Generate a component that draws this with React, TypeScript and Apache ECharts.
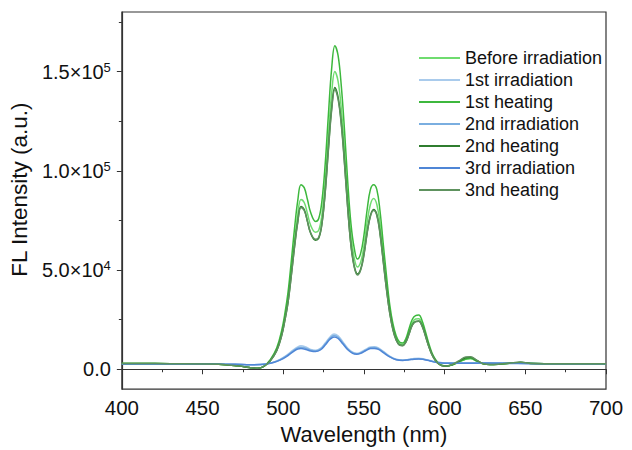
import React, { useEffect, useRef } from "react";
import * as echarts from "echarts";

// Wavelength grids (nm)
const wlGreen = [
  400, 430, 460, 472, 479, 484, 488, 492, 496, 499,
  501, 503, 505, 507, 509, 511, 513, 515, 517, 520,
  522, 524, 526, 528, 530, 532, 534, 536, 538, 540,
  542, 544, 546, 548, 550, 552, 554, 556, 558, 560,
  562, 564, 566, 568, 570, 572, 574, 576, 578, 580,
  582, 584, 586, 588, 590, 592, 594, 596, 598, 601,
  605, 609, 613, 616, 620, 624, 628, 634, 640, 647,
  655, 670, 700,
];
const wlBlue = [
  400, 440, 470, 480, 486, 490, 494, 498, 502, 506,
  509, 511, 514, 517, 520, 523, 526, 529, 531.5, 534,
  537, 540, 543, 545.5, 548, 551, 554, 556.5, 559, 562,
  566, 570, 574, 578, 581, 584, 587, 591, 595, 600,
  610, 625, 645, 670, 700,
];

// FL intensity (a.u.)
const beforeIrradiation = [
  2900, 2800, 2500, 1700, 900, 500, 1500, 4500, 10000, 18000,
  26000, 36000, 50000, 65000, 78000, 85500, 84000, 78500, 72500, 69000,
  70000, 78000, 95000, 118000, 139000, 150000, 145000, 131000, 110000, 86000,
  67000, 56000, 51500, 54000, 62000, 74000, 83000, 86000, 83000, 73000,
  58000, 43000, 30000, 21000, 15500, 12800, 12500, 14500, 19000, 23500,
  25300, 25500, 23000, 18000, 12500, 8000, 5000, 3000, 2000, 1600,
  2300, 3600, 5000, 5300, 4000, 2700, 2400, 2600, 3000, 3400,
  2900, 2800, 2800,
];
const heating1 = [
  2900, 2800, 2500, 1700, 900, 500, 1500, 4800, 10800, 19500,
  28000, 39000, 54500, 71000, 85000, 93000, 91500, 85500, 79000, 74500,
  76000, 85000, 103500, 128500, 151500, 163000, 158000, 142500, 120000, 94000,
  73000, 61000, 55500, 58500, 67500, 80500, 90500, 93000, 90500, 79500,
  63000, 47000, 32500, 22800, 16800, 13700, 13200, 15500, 20500, 25200,
  27000, 27300, 24600, 19300, 13500, 8600, 5300, 3200, 2100, 1700,
  2300, 3700, 5200, 5500, 4100, 2700, 2400, 2600, 3000, 3400,
  2900, 2800, 2800,
];
const heating2 = [
  2900, 2800, 2500, 1700, 900, 500, 1500, 4300, 9500, 17000,
  24700, 34000, 47500, 62000, 74500, 82000, 80500, 74500, 68500, 65000,
  66000, 73500, 89500, 111500, 131500, 142000, 137000, 124000, 104000, 81000,
  62500, 52000, 48000, 50500, 58000, 69000, 77500, 80500, 78000, 68500,
  54500, 40500, 28500, 20000, 14800, 12300, 12000, 13800, 18000, 22400,
  24100, 24300, 22000, 17200, 12000, 7700, 4800, 2900, 1900, 1600,
  2400, 4000, 5800, 6000, 4400, 2800, 2400, 2600, 3000, 3500,
  2900, 2800, 2800,
];
const heating3 = [
  2900, 2800, 2500, 1700, 900, 500, 1500, 4300, 9400, 16800,
  24500, 33800, 47000, 61500, 74000, 81500, 80000, 74500, 68800, 65500,
  66500, 73500, 89000, 110500, 130500, 141000, 136000, 123000, 103000, 80500,
  62000, 51500, 47500, 50000, 57500, 68500, 77000, 80000, 77500, 68000,
  54000, 40000, 28200, 19800, 14600, 12200, 11900, 13600, 17800, 22200,
  23900, 24200, 21800, 17000, 11800, 7600, 4700, 2900, 1900, 1600,
  2500, 4300, 6200, 6300, 4500, 2800, 2400, 2600, 3000, 3500,
  2900, 2800, 2800,
];
const irradiation1 = [
  2600, 2700, 2500, 2300, 2400, 2800, 3600, 5000, 7000, 9600,
  11300, 11800, 11200, 10000, 9600, 10500, 13200, 16300, 17800, 16800,
  13800, 10600, 8600, 8000, 8600, 10000, 11200, 11400, 10800, 9000,
  6600, 5000, 4600, 5000, 5400, 5500, 5200, 4400, 3600, 3200,
  3100, 3200, 3000, 2800, 2800,
];
const irradiation2 = [
  2600, 2700, 2500, 2300, 2400, 2800, 3500, 4800, 6700, 9200,
  10800, 11100, 10600, 9600, 9200, 10100, 12700, 15700, 17000, 16100,
  13200, 10200, 8300, 7800, 8300, 9600, 10800, 11000, 10400, 8700,
  6400, 4900, 4500, 4900, 5200, 5300, 5000, 4300, 3500, 3100,
  3100, 3200, 3000, 2800, 2800,
];
const irradiation3 = [
  2600, 2700, 2500, 2300, 2400, 2700, 3400, 4600, 6400, 8800,
  10200, 10400, 10000, 9200, 8900, 9700, 12200, 15100, 16300, 15500,
  12700, 9800, 8000, 7600, 8000, 9300, 10400, 10500, 10000, 8400,
  6200, 4800, 4400, 4800, 5100, 5200, 4900, 4200, 3400, 3000,
  3000, 3100, 2900, 2800, 2800,
];

const seriesNames = [
  "Before irradiation",
  "1st irradiation",
  "1st heating",
  "2nd irradiation",
  "2nd heating",
  "3rd irradiation",
  "3nd heating",
];
const seriesColors = [
  "#6fdc6f",
  "#a9cbec",
  "#3db83d",
  "#7aaee0",
  "#2f7d2f",
  "#4f86d6",
  "#5e925e",
];
const seriesValues = [
  beforeIrradiation,
  irradiation1,
  heating1,
  irradiation2,
  heating2,
  irradiation3,
  heating3,
];
const seriesGrids = [wlGreen, wlBlue, wlGreen, wlBlue, wlGreen, wlBlue, wlGreen];

const yMajorTicks = [0, 50000, 100000, 150000];
const yMinorTicks = [25000, 75000, 125000, 175000];

const FONT = "'Liberation Sans', Arial, sans-serif";

function sciLabel(v: number): string {
  if (v === 0) return "0.0";
  const e = Math.floor(Math.log10(v));
  const m = (v / Math.pow(10, e)).toFixed(1);
  return `{b|${m}×10}{s|${e}}`;
}

export default function App() {
  const ref = useRef<HTMLDivElement>(null);
  useEffect(() => {
    if (!ref.current) return;
    const chart = echarts.init(ref.current, null, { renderer: "svg" });
    const axisColor = "#333";
    chart.setOption({
      animation: false,
      backgroundColor: "#fff",
      grid: {
        left: 120,
        right: 26,
        top: 12,
        bottom: 58,
        show: true,
        borderColor: axisColor,
        borderWidth: 1.2,
        backgroundColor: "transparent",
      },
      legend: {
        orient: "vertical",
        left: 414,
        top: 44,
        icon: "rect",
        itemWidth: 41,
        itemHeight: 2,
        itemGap: 4,
        textStyle: { fontSize: 18, fontFamily: FONT, color: "#111" },
        data: seriesNames,
      },
      xAxis: {
        type: "value",
        min: 400,
        max: 700,
        interval: 50,
        name: "Wavelength (nm)",
        nameLocation: "middle",
        nameGap: 32,
        nameTextStyle: { fontSize: 22, fontFamily: FONT, color: "#111" },
        axisLine: { show: true, lineStyle: { color: axisColor, width: 1.2 } },
        axisTick: { show: true, inside: false, length: 5, lineStyle: { color: axisColor } },
        minorTick: { show: true, splitNumber: 2, length: 3, lineStyle: { color: axisColor } },
        axisLabel: { fontSize: 20.5, fontFamily: FONT, color: "#111", margin: 8 },
        splitLine: { show: false },
      },
      yAxis: [
        {
          type: "value",
          min: -10000,
          max: 180000,
          name: "FL Intensity (a.u.)",
          nameLocation: "middle",
          nameGap: 82,
          nameTextStyle: { fontSize: 22.5, fontFamily: FONT, color: "#111", padding: [0, 0, 0, 22] },
          axisLine: { show: true, lineStyle: { color: axisColor, width: 1.2 } },
          axisTick: {
            show: true,
            inside: false,
            length: 5,
            customValues: yMajorTicks,
            lineStyle: { color: axisColor },
          },
          axisLabel: {
            customValues: yMajorTicks,
            fontSize: 20,
            fontFamily: FONT,
            color: "#111",
            margin: 11,
            formatter: sciLabel,
            rich: {
              b: { fontSize: 20, fontFamily: FONT, color: "#111", lineHeight: 22 },
              s: { fontSize: 13, fontFamily: FONT, color: "#111", verticalAlign: "top", lineHeight: 12 },
            },
          },
          splitLine: { show: false },
        },
        {
          type: "value",
          min: -10000,
          max: 180000,
          position: "left",
          axisLine: { show: false },
          axisTick: {
            show: true,
            inside: false,
            length: 3,
            customValues: yMinorTicks,
            lineStyle: { color: axisColor },
          },
          axisLabel: { show: false },
          splitLine: { show: false },
        },
      ],
      series: seriesNames.map((name, i) => ({
        name,
        type: "line",
        yAxisIndex: 0,
        showSymbol: false,
        symbol: "none",
        smooth: 0.4,
        lineStyle: { color: seriesColors[i], width: 1.5 },
        itemStyle: { color: seriesColors[i] },
        data: seriesGrids[i].map((x, j) => [x, seriesValues[i][j]]),
      })),
    });
    return () => chart.dispose();
  }, []);
  return (
    <div
      ref={ref}
      style={{ position: "fixed", left: 0, top: 0, width: 632, height: 450 }}
    />
  );
}
